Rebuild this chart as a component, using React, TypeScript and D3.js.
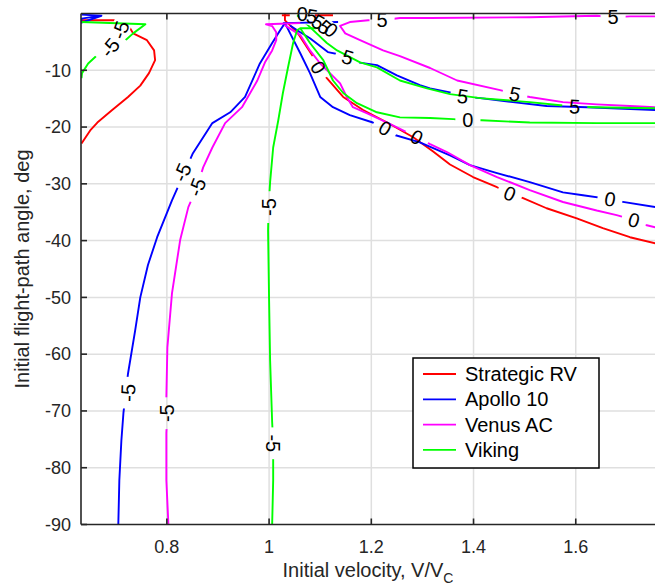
import React from 'react';
import * as d3 from 'd3';

type Pt = [number, number];
type Lbl = [number, number, string, number];

const xTicks = [0.8, 1, 1.2, 1.4, 1.6];
const yTicks = [-90, -80, -70, -60, -50, -40, -30, -20, -10];
const vehicles = ['Strategic RV', 'Apollo 10', 'Venus AC', 'Viking'];
const colors = ['#ff0000', '#0000ff', '#ff00ff', '#00ff00'];

// Strategic RV contours [V/Vc, gamma]
const strategicRV: Pt[][] = [
  [[0.633, -1.2], [0.718, -1.2], [0.728, -2.6], [0.734, -3.5], [0.761, -4.7], [0.775, -6.5], [0.777, -8.2], [0.765, -10.5], [0.748, -12.7], [0.724, -14.7], [0.693, -17.0], [0.664, -19.2], [0.65, -20.6], [0.633, -22.9]],
  [[1.031, -0.1], [1.031, -1.2], [1.041, -2.1], [1.055, -3.3], [1.084, -7.3], [1.096, -9.5], [1.113, -11.4], [1.145, -14.7], [1.184, -17.0], [1.231, -19.2], [1.282, -21.8], [1.321, -24.3], [1.354, -26.6], [1.399, -28.8], [1.446, -30.6], [1.471, -31.7], [1.497, -32.5], [1.543, -34.3], [1.602, -36.1], [1.653, -37.8], [1.706, -39.4], [1.757, -40.5]],
  [[1.025, -0.3], [1.125, -0.3]],
];
const strategicRVLabels: Lbl[] = [
  [0.709, -2.9, '-5', -70], [1.096, -9.5, '0', 58], [1.471, -31.7, '0', 22], [1.065, -0.1, '0', 0],
];

const apollo10: Pt[][] = [
  [[0.633, -0.2], [0.672, -0.4], [0.633, -1.6], [0.633, -0.9], [0.662, -0.5]],
  [[0.705, -90], [0.707, -82.2], [0.711, -75.2], [0.715, -70.4], [0.724, -63.4], [0.738, -55.8], [0.748, -50.0], [0.763, -44.3], [0.781, -39.4], [0.81, -32.9], [0.851, -24.6], [0.889, -19.3], [0.924, -17.4], [0.953, -14.7], [0.982, -8.8], [1.006, -5.2], [1.022, -2.9], [1.031, -1.7]],
  [[1.031, -1.7], [1.061, -7.0], [1.08, -10.5], [1.1, -14.7], [1.125, -16.5], [1.158, -17.9], [1.203, -19.2], [1.227, -20.2], [1.246, -21.4], [1.295, -22.7], [1.354, -25.0], [1.393, -26.7], [1.446, -28.1], [1.51, -29.7], [1.575, -31.5], [1.614, -32.0], [1.667, -32.7], [1.686, -33.1], [1.757, -34.1]],
  [[1.041, -2.1], [1.061, -3.3], [1.08, -4.35], [1.115, -6.8], [1.143, -7.3], [1.154, -7.7], [1.174, -8.6], [1.211, -9.1], [1.25, -10.9], [1.295, -12.6], [1.315, -13.2], [1.354, -13.9], [1.378, -14.6], [1.413, -14.9], [1.477, -15.6], [1.543, -16.3], [1.622, -16.5], [1.757, -17.0]],
  [[1.027, -1.7], [1.135, -1.5]],
];
const apollo10Labels: Lbl[] = [
  [0.724, -66.8, '-5', -88], [0.83, -28.0, '-5', -66], [1.227, -20.2, '0', 30], [1.667, -32.7, '0', 9],
  [1.154, -7.7, '5', 18], [1.379, -14.6, '5', 8], [1.109, -2.4, '5', 40],
];

const venusAC: Pt[][] = [
  [[0.803, -90], [0.799, -82.2], [0.799, -73.9], [0.801, -70.4], [0.799, -67.6], [0.801, -58.8], [0.81, -49.3], [0.826, -39.9], [0.842, -34.1], [0.859, -30.6], [0.871, -27.1], [0.889, -23.6], [0.914, -19.3], [0.947, -16.5], [0.977, -11.8], [0.992, -8.6], [1.006, -6.5], [1.014, -4.7], [1.014, -3.3], [1.006, -2.2], [0.994, -1.9], [1.022, -1.8], [1.061, -1.7]],
  [[1.031, -2.1], [1.061, -3.8], [1.08, -6.5], [1.1, -8.8], [1.119, -10.5], [1.139, -12.3], [1.152, -14.7], [1.164, -16.5], [1.192, -17.6], [1.231, -19.2], [1.262, -20.6], [1.289, -21.8], [1.315, -23.0], [1.348, -24.4], [1.393, -26.7], [1.446, -28.8], [1.51, -31.1], [1.575, -33.2], [1.641, -34.7], [1.68, -35.5], [1.714, -36.4], [1.739, -37.3], [1.757, -37.7]],
  [[1.757, -0.5], [1.706, -0.5], [1.673, -0.65], [1.641, -0.4], [1.51, -0.65], [1.315, -0.8], [1.256, -0.8], [1.221, -1.2], [1.194, -1.2], [1.158, -1.5], [1.139, -2.2], [1.149, -3.5], [1.178, -4.7], [1.223, -6.5], [1.256, -7.5], [1.315, -9.6], [1.368, -11.8], [1.452, -13.5], [1.481, -14.2], [1.51, -14.7], [1.575, -15.6], [1.641, -16.0], [1.706, -16.3], [1.757, -16.5]],
];
const venusACLabels: Lbl[] = [
  [0.801, -70.4, '-5', -90], [0.859, -30.6, '-5', -69], [1.289, -21.8, '0', 28], [1.714, -36.4, '0', 15],
  [1.673, -0.65, '5', 0], [1.221, -1.2, '5', 0], [1.481, -14.2, '5', 12], [1.096, -1.5, '5', 30],
];

const viking: Pt[][] = [
  [[1.006, -90], [1.008, -82.2], [1.008, -79.2], [1.008, -75.7], [1.006, -72.0], [1.002, -61.1], [1.0, -50.5], [0.998, -38.2], [0.999, -34.1], [1.002, -29.7], [1.008, -23.6], [1.018, -18.8], [1.027, -14.0], [1.037, -9.5], [1.047, -5.2], [1.055, -2.9], [1.061, -2.6], [1.09, -2.6], [1.125, -2.4]],
  [[1.061, -2.6], [1.08, -5.2], [1.106, -8.2], [1.125, -11.8], [1.145, -14.0], [1.172, -15.8], [1.211, -17.4], [1.256, -18.3], [1.315, -18.4], [1.36, -18.6], [1.389, -18.8], [1.416, -18.8], [1.51, -19.2], [1.641, -19.3], [1.757, -19.3]],
  [[1.055, -0.3], [1.08, -2.4], [1.113, -5.2], [1.133, -6.5], [1.178, -8.6], [1.211, -9.5], [1.256, -11.8], [1.309, -13.2], [1.354, -14.2], [1.413, -14.9], [1.51, -15.6], [1.575, -16.2], [1.598, -16.4], [1.633, -16.5], [1.757, -16.7]],
  [[0.633, -1.5], [0.758, -1.9], [0.734, -3.5], [0.713, -5.2], [0.689, -6.3], [0.664, -7.3], [0.646, -8.8], [0.634, -10.5], [0.633, -11.4]],
];
const vikingLabels: Lbl[] = [
  [1.008, -75.7, '-5', 90], [0.999, -34.1, '-5', -90], [1.389, -18.8, '0', 0], [1.598, -16.4, '5', 3],
  [0.689, -6.0, '-5', -50], [1.084, -0.5, '5', 10], [1.121, -2.9, '0', 40],
];

const seriesLines = [strategicRV, apollo10, venusAC, viking];
const seriesLabels = [strategicRVLabels, apollo10Labels, venusACLabels, vikingLabels];

const W = 655, H = 587;
const L = 81, R = 656, T = 13.5, B = 524.5;
const FONT = '"Liberation Sans", Arial, Helvetica, sans-serif';
const AX = '#262626';

function textW(s: string) {
  let w = 0;
  for (const c of s) w += c === '-' ? 6.7 : 11.1;
  return w;
}

export default function App() {
  const x = d3.scaleLinear().domain([0.632, 1.757]).range([L, R]);
  const y = d3.scaleLinear().domain([-90, 0]).range([B, T]);
  const line = d3.line<Pt>().x(d => x(d[0])).y(d => y(d[1]));

  return (
    <svg width={W} height={H} style={{ position: 'absolute', left: 0, top: 0, background: '#fff' }} fontFamily={FONT}>
      <defs>
        <clipPath id="plotclip">
          <rect x={L} y={T - 1} width={R - L} height={B - T + 1} />
        </clipPath>
        {seriesLabels.map((labs, i) => (
          <mask id={`m${i}`} key={i} maskUnits="userSpaceOnUse" x={0} y={0} width={W} height={H}>
            <rect x={0} y={0} width={W} height={H} fill="white" />
            {labs.map((l, j) => {
              const w = textW(l[2]) + 14;
              return (
                <rect key={j} x={-w / 2} y={-9} width={w} height={18} fill="black"
                  transform={`translate(${x(l[0])},${y(l[1])}) rotate(${l[3]})`} />
              );
            })}
          </mask>
        ))}
      </defs>
      {/* grid */}
      <g stroke="#dfdfdf" strokeWidth={1.5}>
        {xTicks.map(t => <line key={t} x1={x(t)} x2={x(t)} y1={T} y2={B} />)}
        {yTicks.filter(t => t > -90).map(t => <line key={t} x1={L} x2={R} y1={y(t)} y2={y(t)} />)}
      </g>
      {/* contours */}
      <g clipPath="url(#plotclip)">
        {seriesLines.map((lines, i) => (
          <g key={i} mask={`url(#m${i})`} stroke={colors[i]} strokeWidth={1.9} fill="none" strokeLinejoin="round">
            {lines.map((pts, j) => <path key={j} d={line(pts) || ''} />)}
          </g>
        ))}
      </g>
      {/* contour labels */}
      {seriesLabels.map((labs, i) => (
        <g key={i} fontSize={20} fill="#000" textAnchor="middle">
          {labs.map((l, j) => (
            <text key={j} dominantBaseline="central" transform={`translate(${x(l[0])},${y(l[1])}) rotate(${l[3]})`}>{l[2]}</text>
          ))}
        </g>
      ))}
      {/* axes */}
      <g stroke={AX} strokeWidth={1.6}>
        <line x1={L} x2={L} y1={T} y2={B} />
        <line x1={L} x2={R} y1={B} y2={B} />
        <line x1={L} x2={R} y1={T} y2={T} />
        {xTicks.map(t => (
          <g key={t}>
            <line x1={x(t)} x2={x(t)} y1={B} y2={B - 6} />
            <line x1={x(t)} x2={x(t)} y1={T} y2={T + 6} />
          </g>
        ))}
        {yTicks.map(t => <line key={t} x1={L} x2={L + 6} y1={y(t)} y2={y(t)} />)}
      </g>
      <g fill={AX} fontSize={18}>
        {xTicks.map(t => (
          <text key={t} x={x(t)} y={553} textAnchor="middle">{d3.format('~g')(t)}</text>
        ))}
        {yTicks.map(t => (
          <text key={t} x={71} y={y(t)} dy="0.35em" textAnchor="end">{t}</text>
        ))}
      </g>
      <text x={368} y={577} fontSize={20} fill={AX} textAnchor="middle">
        Initial velocity, V/V<tspan fontSize={14} dy={6}>C</tspan>
      </text>
      <text transform={`translate(29,${(T + B) / 2}) rotate(-90)`} fontSize={20} fill={AX} textAnchor="middle">
        Initial flight-path angle, deg
      </text>
      {/* legend */}
      <g>
        <rect x={413} y={358} width={186} height={110} fill="#fff" stroke="#000" strokeWidth={1.5} />
        {vehicles.map((v, i) => (
          <g key={v}>
            <line x1={423} x2={456} y1={374 + i * 25.3} y2={374 + i * 25.3} stroke={colors[i]} strokeWidth={1.8} />
            <text x={465} y={374 + i * 25.3} dy="0.35em" fontSize={20} fill="#000">{v}</text>
          </g>
        ))}
      </g>
    </svg>
  );
}
